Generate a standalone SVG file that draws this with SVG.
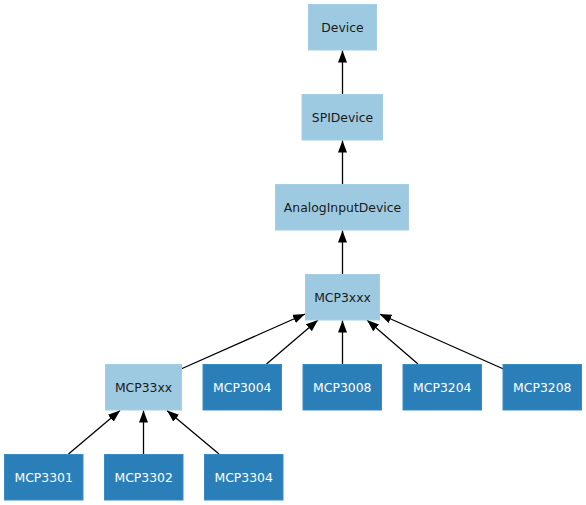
<svg xmlns="http://www.w3.org/2000/svg" width="586" height="505" viewBox="0 0 586 505">
<style>
.light{fill:#9ecae1;stroke:#a6cde6;stroke-width:1}
.dark{fill:#2b7fb8;stroke:#3a8cc4;stroke-width:1}
text{font-family:"DejaVu Sans",sans-serif;font-size:12.4px;text-anchor:middle}
.tl{fill:#1a1a1a}
.td{fill:#ffffff}
.e{stroke:#000;stroke-width:1.3;fill:none;marker-end:url(#arr)}
</style>
<defs>
<marker id="arr" markerUnits="userSpaceOnUse" markerWidth="13" markerHeight="10" refX="12" refY="4.5" orient="auto">
<polygon points="0,0 12,4.5 0,9" fill="#000"/>
</marker>
</defs>
<rect width="586" height="505" fill="#fff"/>
<g id="connectors">
<line class="e" x1="342.5" y1="94" x2="342.5" y2="50.5"/>
<line class="e" x1="342.5" y1="184" x2="342.5" y2="140.5"/>
<line class="e" x1="342.5" y1="274" x2="342.5" y2="230.5"/>
<line class="e" x1="181" y1="369" x2="305" y2="314"/>
<line class="e" x1="266.5" y1="364" x2="318" y2="320"/>
<line class="e" x1="342.5" y1="364" x2="342.5" y2="320.5"/>
<line class="e" x1="418" y1="364" x2="367" y2="320"/>
<line class="e" x1="503.5" y1="369" x2="379.5" y2="314"/>
<line class="e" x1="68.5" y1="454" x2="120" y2="410.5"/>
<line class="e" x1="143.5" y1="454" x2="143.5" y2="410.5"/>
<line class="e" x1="219" y1="454" x2="167" y2="410.5"/>
</g>
<g id="Device"><rect class="light" x="308.5" y="4.5" width="68" height="45.5"/><text class="tl" x="342.5" y="31.5">Device</text></g>
<g id="SPIDevice"><rect class="light" x="302" y="94.5" width="80.5" height="45.5"/><text class="tl" x="342.5" y="121.5">SPIDevice</text></g>
<g id="AnalogInputDevice"><rect class="light" x="275.5" y="184.5" width="133" height="45.5"/><text class="tl" x="342.5" y="211.5">AnalogInputDevice</text></g>
<g id="MCP3xxx"><rect class="light" x="305.5" y="274.5" width="74" height="45.5"/><text class="tl" x="342.5" y="301.5">MCP3xxx</text></g>
<g id="MCP33xx"><rect class="light" x="105.5" y="364.5" width="76" height="45.5"/><text class="tl" x="143.5" y="391.5">MCP33xx</text></g>
<g id="MCP3004"><rect class="dark" x="203" y="364.5" width="78.5" height="45.5"/><text class="td" x="242.3" y="391.5">MCP3004</text></g>
<g id="MCP3008"><rect class="dark" x="303" y="364.5" width="78.5" height="45.5"/><text class="td" x="342.3" y="391.5">MCP3008</text></g>
<g id="MCP3204"><rect class="dark" x="403" y="364.5" width="78.5" height="45.5"/><text class="td" x="442.3" y="391.5">MCP3204</text></g>
<g id="MCP3208"><rect class="dark" x="503" y="364.5" width="78.5" height="45.5"/><text class="td" x="542.3" y="391.5">MCP3208</text></g>
<g id="MCP3301"><rect class="dark" x="4.5" y="454.5" width="78.5" height="45.5"/><text class="td" x="43.7" y="481.5">MCP3301</text></g>
<g id="MCP3302"><rect class="dark" x="104.5" y="454.5" width="78.5" height="45.5"/><text class="td" x="143.7" y="481.5">MCP3302</text></g>
<g id="MCP3304"><rect class="dark" x="204.5" y="454.5" width="78.5" height="45.5"/><text class="td" x="243.7" y="481.5">MCP3304</text></g>
</svg>
